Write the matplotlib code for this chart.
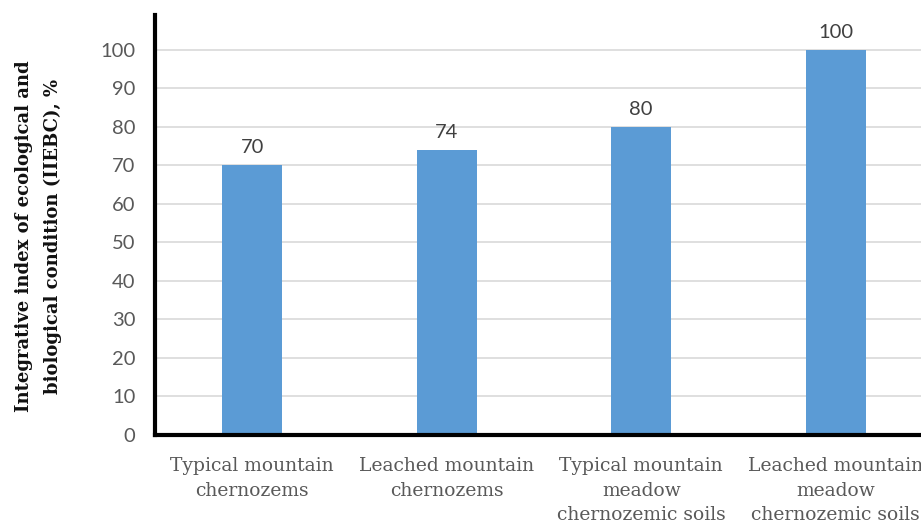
import matplotlib
matplotlib.use("Agg")
import matplotlib.pyplot as plt

categories = ["Typical mountain\nchernozems", "Leached mountain\nchernozems",
              "Typical mountain\nmeadow\nchernozemic soils", "Leached mountain\nmeadow\nchernozemic soils"]
values = [70, 74, 80, 100]
yticks = [0, 10, 20, 30, 40, 50, 60, 70, 80, 90, 100]
ylabel = "Integrative index of ecological and\nbiological condition (IIEBC), %"

fig = plt.figure(figsize=(9.21, 5.22), dpi=100)
ax = fig.add_axes([155/921, 1-435/522, 778/921, 420/522])

x = range(len(categories))
ax.bar(x, values, width=0.31, color="#5B9BD5", zorder=3)
for xi, v in zip(x, values):
    ax.text(xi, v + 2.3, str(v), ha="center", va="bottom", fontsize=14.5,
            color="#404040", family="Lato")

ax.set_xlim(-0.5, 3.5)
ax.set_ylim(0, 109)
ax.set_yticks(yticks)
ax.set_yticklabels([str(t) for t in yticks], fontsize=14.5, color="#595959", family="Lato")
ax.set_xticks(list(x))
ax.set_xticklabels(categories, fontsize=13.5, color="#595959", family="DejaVu Serif",
                   linespacing=1.45)
ax.tick_params(axis="both", length=0)
ax.tick_params(axis="y", pad=14)
ax.tick_params(axis="x", pad=16)
ax.grid(axis="y", color="#D9D9D9", linewidth=1.2, zorder=0)
for s in ["top", "right"]:
    ax.spines[s].set_visible(False)
for s in ["left", "bottom"]:
    ax.spines[s].set_linewidth(3)
    ax.spines[s].set_color("black")
    ax.spines[s].set_zorder(4)

fig.text(0.042, 1-236/522, ylabel, rotation=90, ha="center", va="center",
         fontsize=13, fontweight="bold", family="DejaVu Serif", linespacing=1.75,
         color="#111111")

fig.savefig("out.png", dpi=100)
